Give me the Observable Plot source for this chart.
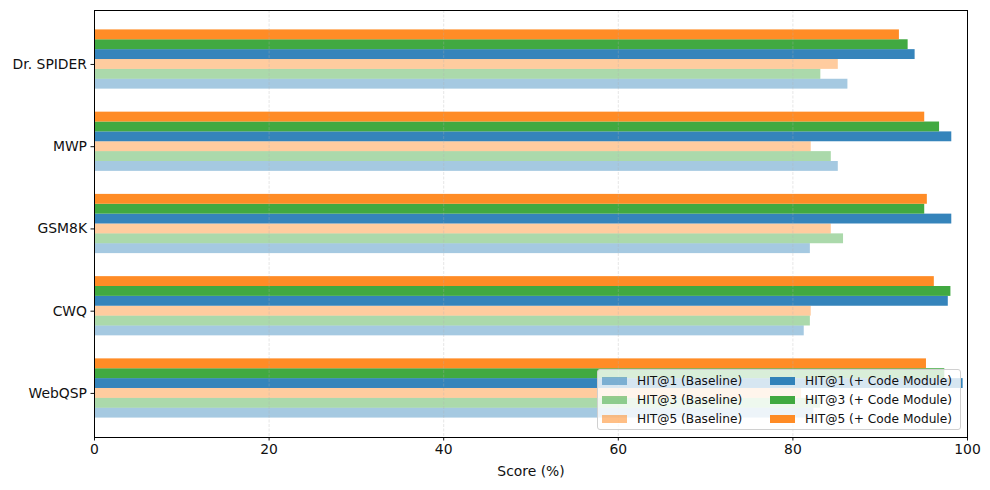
<!DOCTYPE html>
<html>
<head>
<meta charset="utf-8">
<script src="https://cdn.jsdelivr.net/npm/d3@7"></script>
<script src="https://cdn.jsdelivr.net/npm/@observablehq/plot@0.6"></script>
<style>
  body { margin: 0; background: #fff; font-family: "DejaVu Sans", sans-serif; }
  #wrap { position: relative; width: 990px; height: 490px; }
  #legend { position: absolute; left: 597px; top: 369px; width: 364px; height: 61px;
    background: rgba(255,255,255,0.8); border: 1px solid #d0d0d0; border-radius: 3px;
    font-size: 12.2px; color: #111; box-sizing: border-box; }
  .item { position: absolute; height: 14px; line-height: 14px; white-space: nowrap; }
  .sw { position: absolute; left: 0; top: 3px; width: 25px; height: 8px; }
  .lab { position: absolute; left: 35px; top: 0; }
</style>
</head>
<body>
<div id="wrap"></div>
<script>
const categories = ["WebQSP", "CWQ", "GSM8K", "MWP", "Dr. SPIDER"];
const seriesNames = ["HIT@1 (Baseline)", "HIT@3 (Baseline)", "HIT@5 (Baseline)",
  "HIT@1 (+ Code Module)", "HIT@3 (+ Code Module)", "HIT@5 (+ Code Module)"];
const hit1Base = [82.4, 81.3, 82.0, 85.2, 86.3];
const hit3Base = [83.2, 82.0, 85.8, 84.4, 83.2];
const hit5Base = [81.0, 82.1, 84.4, 82.1, 85.2];
const hit1Code = [99.5, 97.8, 98.2, 98.2, 94.0];
const hit3Code = [97.4, 98.1, 95.1, 96.8, 93.2];
const hit5Code = [95.3, 96.2, 95.4, 95.1, 92.2];
const xTicks = [0, 20, 40, 60, 80, 100];

const seriesValues = [hit1Base, hit3Base, hit5Base, hit1Code, hit3Code, hit5Code];
const baseColors = ["#1f77b4", "#2ca02c", "#ff7f0e", "#1f77b4", "#2ca02c", "#ff7f0e"];
const opacities = [0.4, 0.4, 0.4, 0.9, 0.9, 0.9];
const barW = 0.12;

const data = [];
seriesValues.forEach((vals, si) => {
  vals.forEach((v, ci) => {
    data.push({cat: categories[ci], ci, si, series: seriesNames[si], value: v});
  });
});

const chart = Plot.plot({
  width: 990,
  height: 490,
  marginLeft: 94,
  marginRight: 23,
  marginTop: 10,
  marginBottom: 53,
  style: {fontFamily: "DejaVu Sans, sans-serif", fontSize: "13.9px", color: "#111", background: "#fff"},
  x: {domain: [0, 100]},
  y: {type: "linear", domain: [-0.536, 4.656]},
  color: {domain: seriesNames, range: baseColors},
  marks: [
    Plot.rect(data, {
      x1: 0, x2: "value",
      y1: d => d.ci + (d.si - 2) * barW - barW / 2,
      y2: d => d.ci + (d.si - 2) * barW + barW / 2,
      fill: "series",
      fillOpacity: d => opacities[d.si]
    }),
    Plot.ruleX(xTicks, {stroke: "#b0b0b0", strokeOpacity: 0.4, strokeDasharray: "3,1.5", strokeWidth: 0.8}),
    Plot.axisX({ticks: xTicks, tickSize: 3.5, tickPadding: 3, tickFormat: d => String(d),
      label: "Score (%)", labelAnchor: "center", labelArrow: "none", labelOffset: 38, fill: "#111"}),
    Plot.axisY({ticks: [0, 1, 2, 3, 4], tickFormat: i => categories[i], tickSize: 3.5, tickPadding: 4,
      label: null, fill: "#111"}),
    Plot.frame({stroke: "#000", strokeWidth: 1})
  ]
});
const wrap = document.getElementById("wrap");
wrap.appendChild(chart);

// legend overlay (inside plot area, lower right)
const legend = document.createElement("div");
legend.id = "legend";
const colX = [4, 172];
const rowY = [4, 23, 42];
seriesNames.forEach((name, i) => {
  const col = Math.floor(i / 3), row = i % 3;
  const item = document.createElement("div");
  item.className = "item";
  item.style.left = colX[col] + "px";
  item.style.top = rowY[row] + "px";
  const sw = document.createElement("span");
  sw.className = "sw";
  sw.style.background = baseColors[i];
  sw.style.opacity = opacities[i] + (i < 3 ? 0.1 : 0);
  const lab = document.createElement("span");
  lab.className = "lab";
  lab.textContent = name;
  item.appendChild(sw);
  item.appendChild(lab);
  legend.appendChild(item);
});
wrap.appendChild(legend);
</script>
</body>
</html>
